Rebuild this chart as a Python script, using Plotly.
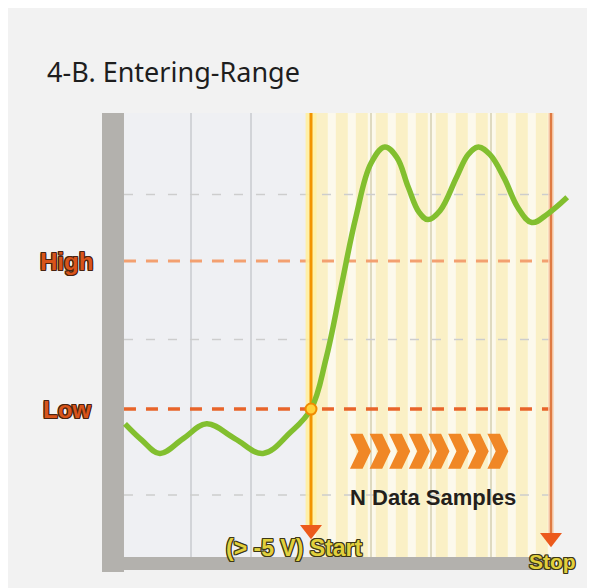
import plotly.graph_objects as go

# ---------------- data ----------------
# signal trace (time in grid divisions, level in volts)
time_div = [-1.10, -0.82, -0.52, -0.13, 0.26, 0.73, 1.20, 1.65, 2.00, 2.25, 2.50, 2.75, 3.00,
            3.23, 3.43, 3.62, 3.80, 3.95, 4.15, 4.43, 4.62, 4.79, 4.98, 5.22, 5.45, 5.68, 5.95, 6.27]
signal_v = [-6.0, -7.1, -8.0, -7.0, -6.0, -7.0, -8.0, -6.6, -5.0, -1.6, 3.2, 8.0, 11.6,
            12.7, 12.0, 10.0, 8.3, 7.8, 8.4, 10.7, 12.2, 12.7, 12.2, 10.6, 8.6, 7.6, 8.2, 9.3]

high_level = 5.0
low_level = -5.0
grid_levels = [9.5, -0.3, -10.8]
grid_times_left = [0, 1]
grid_times_right = [3, 4, 5]
start_time = 2.0
stop_time = 6.0
n_samples = 12
n_chevrons = 8

title_text = "4-B. Entering-Range"
high_label = "High"
low_label = "Low"
start_label = "(> -5 V) Start"
stop_label = "Stop"
samples_label = "N Data Samples"

# ---------------- axes geometry ----------------
X_RANGE = [-1.4833, 6.4]
Y_RANGE = [-16.01, 15.0]
X_IN = -1.117     # inner left edge (right of the grey bar)
Y_TOP = 15.0
Y_BOT = -15.0

PAGE = "#f2f2f2"
BAR = "#b3b1ad"

# page body has an 8px margin -> figure is 587x580, offset by 8px
FIG_W, FIG_H, OFF = 587, 580, 8

shapes = []

def rect(x0, x1, y0, y1, color, opacity=1.0):
    shapes.append(dict(type="rect", xref="x", yref="y", x0=x0, x1=x1, y0=y0, y1=y1,
                       fillcolor=color, opacity=opacity, line=dict(width=0), layer="below"))

def line(x0, x1, y0, y1, color, width, dash="solid"):
    shapes.append(dict(type="line", xref="x", yref="y", x0=x0, x1=x1, y0=y0, y1=y1,
                       line=dict(color=color, width=width, dash=dash), layer="below"))

# backgrounds
rect(X_IN, start_time, Y_BOT, Y_TOP, "#eff0f3")
rect(start_time, stop_time, Y_BOT, Y_TOP, "#fcf9ec")
# sample stripes
pitch = (stop_time - start_time) / n_samples
for i in range(n_samples):
    s0 = start_time + pitch * i + 0.08
    rect(s0, s0 + 0.2, Y_BOT, Y_TOP, "#f8eaa8", 0.55)

# vertical grid lines
for gx in grid_times_left:
    line(gx, gx, Y_BOT, Y_TOP, "#c9cbcf", 1.5)
for gx in grid_times_right:
    line(gx, gx, Y_BOT, Y_TOP, "#d6cfb2", 1.5)

# horizontal dashed levels
for gy in grid_levels:
    line(X_IN, stop_time, gy, gy, "#cdcdcd", 1.5, "9px,13px")
line(X_IN, stop_time, high_level, high_level, "#f3a070", 3, "12px,10px")
line(X_IN, stop_time, low_level, low_level, "#e8642a", 3.5, "12px,10px")

# start / stop markers (glow + line)
rect(start_time - 0.09, start_time + 0.09, -13.3, Y_TOP, "#fff0a0", 0.9)
line(start_time, start_time, -13.0, Y_TOP, "#f29400", 3)
rect(stop_time - 0.05, stop_time + 0.05, -13.8, Y_TOP, "#f9d3b4", 0.8)
line(stop_time, stop_time, -13.5, Y_TOP, "#df7a42", 2.5)

# grey frame bars
rect(X_RANGE[0], X_IN, Y_RANGE[0], Y_TOP, BAR)
rect(X_RANGE[0], 6.07, -15.88, Y_BOT, BAR)

# chevrons  >>>>>>>>
ch_left = 2.65
ch_pitch = 0.327
ch_w = 0.35
ch_t = 0.21
ch_mid = -7.85
ch_h = 1.18
for i in range(n_chevrons):
    lx = ch_left + i * ch_pitch
    path = (f"M {lx},{ch_mid + ch_h} L {lx + ch_t},{ch_mid + ch_h} L {lx + ch_w},{ch_mid} "
            f"L {lx + ch_t},{ch_mid - ch_h} L {lx},{ch_mid - ch_h} L {lx + ch_w - ch_t},{ch_mid} Z")
    shapes.append(dict(type="path", xref="x", yref="y", path=path,
                       fillcolor="#f08726", line=dict(width=0), layer="above"))

fig = go.Figure()

fig.add_trace(go.Scatter(
    x=time_div, y=signal_v, mode="lines",
    line=dict(color="#82bf2f", width=5.5, shape="spline", smoothing=1.1),
    hoverinfo="skip", showlegend=False))

# crossing point
fig.add_trace(go.Scatter(
    x=[start_time], y=[low_level], mode="markers",
    marker=dict(symbol="circle", size=11, color="#ffd23a", line=dict(color="#f08a00", width=2)),
    hoverinfo="skip", showlegend=False))

# arrow heads
fig.add_trace(go.Scatter(
    x=[start_time, stop_time], y=[-13.15, -13.7], mode="markers",
    marker=dict(symbol="triangle-down", size=19, color="#ec5a1c", line=dict(width=0)),
    hoverinfo="skip", showlegend=False))

def outline(c):
    return (f"1px 1px 0 {c}, -1px -1px 0 {c}, 1px -1px 0 {c}, -1px 1px 0 {c}, "
            f"0 1px 0 {c}, 0 -1px 0 {c}, 1px 0 0 {c}, -1px 0 0 {c}")

plot_w = FIG_W - 94 - 20
annotations = [
    dict(text=high_label, xref="paper", yref="y", x=-7 / plot_w, y=high_level, xanchor="right",
         yanchor="middle", showarrow=False,
         font=dict(family="Liberation Sans", size=24, weight="bold", color="#d9541a",
                   shadow=outline("#4a2410"))),
    dict(text=low_label, xref="paper", yref="y", x=-9 / plot_w, y=low_level, xanchor="right",
         yanchor="middle", showarrow=False,
         font=dict(family="Liberation Sans", size=24, weight="bold", color="#d9541a",
                   shadow=outline("#4a2410"))),
    dict(text=start_label, xref="x", yref="y", x=1.72, y=-14.4, xanchor="center",
         yanchor="middle", showarrow=False,
         font=dict(family="Liberation Sans", size=23, weight="bold", color="#e2d03c",
                   shadow=outline("#3c3818"))),
    dict(text=stop_label, xref="x", yref="y", x=6.03, y=-15.3, xanchor="center",
         yanchor="middle", showarrow=False,
         font=dict(family="Liberation Sans", size=21, weight="bold", color="#e2d03c",
                   shadow=outline("#3c3818"))),
    dict(text=samples_label, xref="x", yref="y", x=4.03, y=-10.95, xanchor="center",
         yanchor="middle", showarrow=False,
         font=dict(family="Liberation Sans", size=22, weight="bold", color="#231f1c")),
]

fig.update_layout(
    width=FIG_W, height=FIG_H,
    margin=dict(l=102 - OFF, r=20, t=113 - OFF, b=16),
    paper_bgcolor=PAGE, plot_bgcolor=PAGE,
    title=dict(text=title_text, x=(47 - OFF) / FIG_W, xanchor="left", xref="container",
               y=1 - (73 - OFF) / FIG_H, yanchor="middle", yref="container",
               font=dict(family="Noto Sans", size=27, color="#1e1e1e")),
    xaxis=dict(range=X_RANGE, visible=False, showgrid=False, zeroline=False, fixedrange=True),
    yaxis=dict(range=Y_RANGE, visible=False, showgrid=False, zeroline=False, fixedrange=True),
    shapes=shapes,
    annotations=annotations,
    showlegend=False,
)

fig.write_html("out.html")
